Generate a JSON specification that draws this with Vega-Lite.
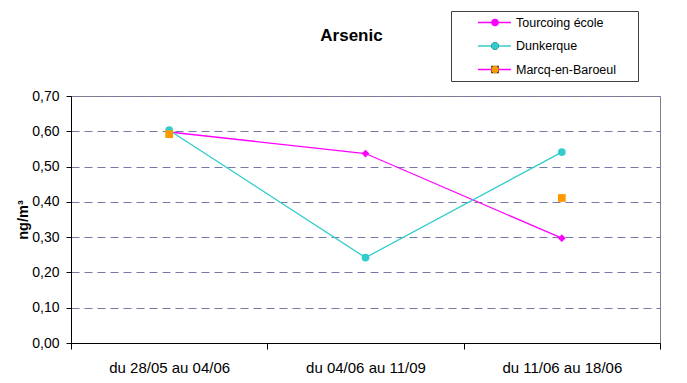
{
  "$schema": "https://vega.github.io/schema/vega-lite/v6.json",
  "width": 589,
  "height": 247,
  "autosize": {"type": "none"},
  "padding": {"left": 71, "top": 96, "right": 27, "bottom": 40},
  "background": "white",
  "config": {
    "font": "Liberation Sans",
    "view": {"stroke": "#808080", "strokeWidth": 1}
  },
  "title": {
    "text": "Arsenic",
    "frame": "group",
    "fontSize": 17,
    "fontWeight": "bold",
    "color": "black",
    "anchor": "middle",
    "baseline": "alphabetic",
    "offset": -47,
    "dx": -14
  },
  "data": {
    "values": [
      {"period": "du 28/05 au 04/06", "series": "Tourcoing école", "value": 0.598},
      {"period": "du 04/06 au 11/09", "series": "Tourcoing école", "value": 0.537},
      {"period": "du 11/06 au 18/06", "series": "Tourcoing école", "value": 0.297},
      {"period": "du 28/05 au 04/06", "series": "Dunkerque", "value": 0.603},
      {"period": "du 04/06 au 11/09", "series": "Dunkerque", "value": 0.242},
      {"period": "du 11/06 au 18/06", "series": "Dunkerque", "value": 0.541},
      {"period": "du 28/05 au 04/06", "series": "Marcq-en-Baroeul", "value": 0.592},
      {"period": "du 04/06 au 11/09", "series": "Marcq-en-Baroeul", "value": null},
      {"period": "du 11/06 au 18/06", "series": "Marcq-en-Baroeul", "value": 0.411}
    ]
  },
  "encoding": {
    "x": {
      "field": "period",
      "type": "nominal",
      "sort": ["du 28/05 au 04/06", "du 04/06 au 11/09", "du 11/06 au 18/06"],
      "scale": {"paddingInner": 0, "paddingOuter": 0},
      "axis": {
        "title": null,
        "labelAngle": 0,
        "tickBand": "extent",
        "tickSize": 6,
        "tickColor": "black",
        "domainColor": "black",
        "labelColor": "black",
        "labelFontSize": 15,
        "labelPadding": 11,
        "grid": false
      }
    },
    "y": {
      "field": "value",
      "type": "quantitative",
      "scale": {"domain": [0, 0.7], "nice": false, "zero": true},
      "axis": {
        "values": [0, 0.1, 0.2, 0.3, 0.4, 0.5, 0.6, 0.7],
        "labelExpr": "replace(format(datum.value, '.2f'), '.', ',')",
        "title": "ng/m³",
        "titleFontSize": 14.5,
        "titleFontWeight": "bold",
        "titleColor": "black",
        "titlePadding": 1,
        "labelFontSize": 14,
        "labelColor": "black",
        "labelPadding": 7,
        "tickSize": 5,
        "tickColor": "black",
        "domainColor": "black",
        "grid": true,
        "gridColor": "#7878a6",
        "gridDash": [8, 5],
        "gridWidth": 1
      }
    }
  },
  "layer": [
    {
      "mark": {"type": "line", "strokeWidth": 1.3, "invalid": "break-paths-filter-domains"},
      "encoding": {
        "stroke": {
          "field": "series",
          "type": "nominal",
          "scale": {
            "domain": ["Tourcoing école", "Dunkerque", "Marcq-en-Baroeul"],
            "range": ["#FF00FF", "#33CCCC", "#FF00FF"]
          },
          "legend": {
            "title": " ",
            "titleOrient": "right",
            "titlePadding": 17,
            "orient": "none",
            "legendX": 380,
            "legendY": -85,
            "padding": 5,
            "strokeColor": "#404040",
            "symbolType": "stroke",
            "symbolSize": 1089,
            "symbolStrokeWidth": 1.3,
            "symbolOffset": 21,
            "clipHeight": 13,
            "rowPadding": 10.5,
            "labelOffset": 4,
            "labelFontSize": 12.5,
            "labelColor": "black",
            "labelFont": "Liberation Sans"
          }
        }
      }
    },
    {
      "mark": {"type": "point", "filled": true, "opacity": 1, "strokeWidth": 0, "size": 60},
      "encoding": {
        "fill": {
          "field": "series",
          "type": "nominal",
          "sort": ["Tourcoing école", "Dunkerque", "Marcq-en-Baroeul"],
          "scale": {"range": ["#FF00FF", "#33CCCC", "#FF9900"]},
          "legend": {
            "title": null,
            "orient": "none",
            "legendX": 380,
            "legendY": -85,
            "padding": 5,
            "symbolOffset": 34,
            "symbolSize": 55,
            "symbolStrokeWidth": 0,
            "clipHeight": 13,
            "rowPadding": 10.5,
            "labelExpr": "''"
          }
        },
        "shape": {
          "field": "series",
          "type": "nominal",
          "sort": ["Tourcoing école", "Dunkerque", "Marcq-en-Baroeul"],
          "scale": {"range": ["diamond", "circle", "square"]},
          "legend": {
            "title": null,
            "orient": "none",
            "legendX": 380,
            "legendY": -85,
            "padding": 5,
            "symbolOffset": 34,
            "symbolSize": 55,
            "symbolStrokeWidth": 0,
            "clipHeight": 13,
            "rowPadding": 10.5,
            "labelExpr": "''"
          }
        }
      }
    }
  ]
}
